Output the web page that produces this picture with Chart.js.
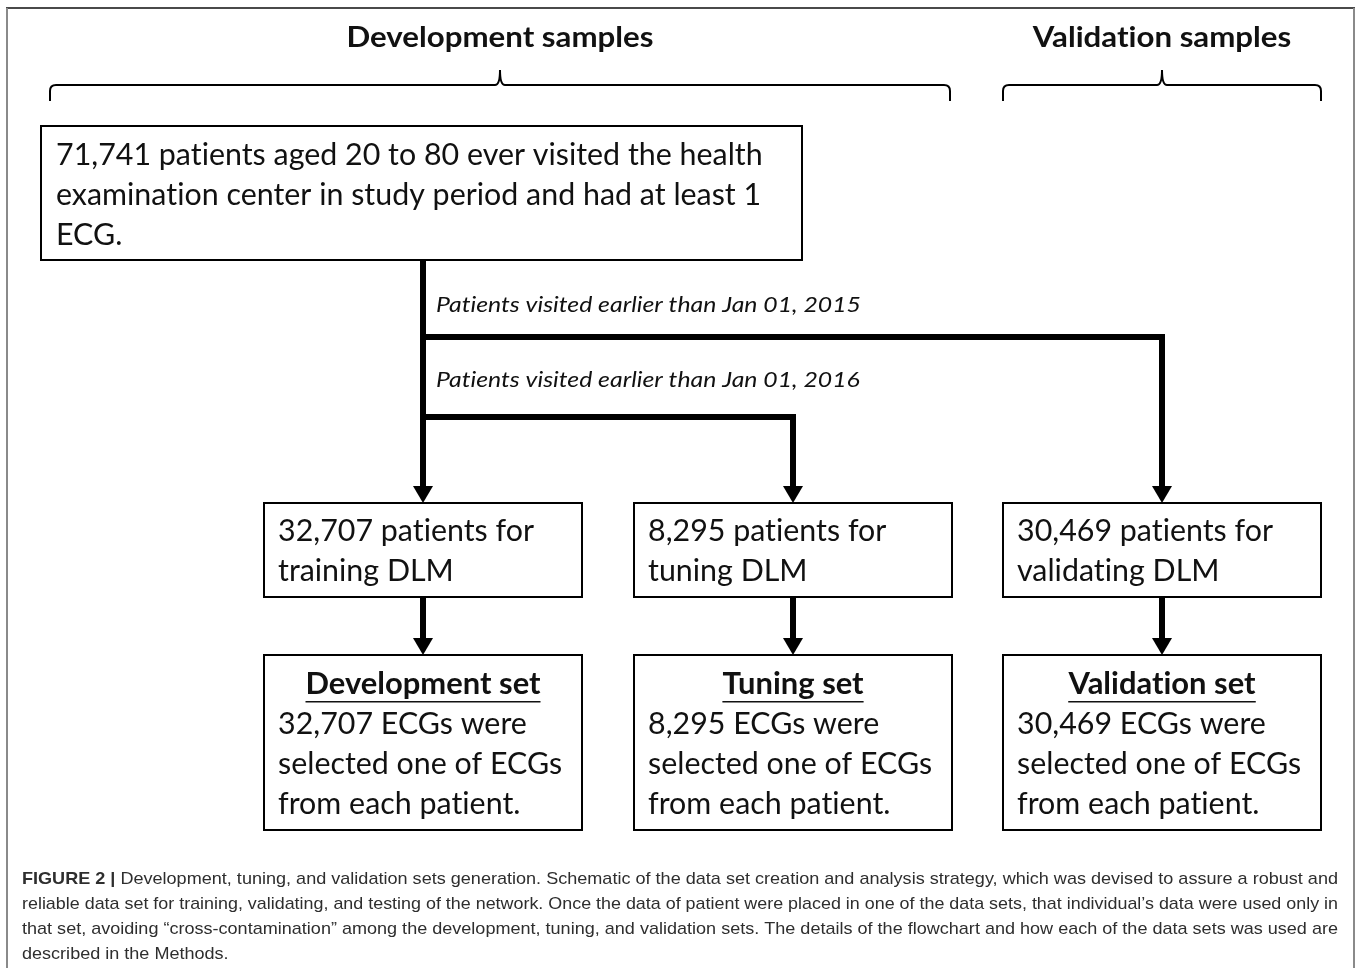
<!DOCTYPE html>
<html>
<head>
<meta charset="utf-8">
<style>
  html, body { margin: 0; padding: 0; background: #fff; }
  canvas { display: block; }
</style>
<script src="https://cdn.jsdelivr.net/npm/chart.js@4.4.1/dist/chart.umd.min.js"></script>
</head>
<body>
<canvas id="flow" width="1358" height="968"></canvas>
<script>
// text content of the figure
const headings = ["Development samples", "Validation samples"];
const conditions = ["Patients visited earlier than Jan 01, 2015", "Patients visited earlier than Jan 01, 2016"];
const sourceLines = [
  "71,741 patients aged 20 to 80 ever visited the health",
  "examination center in study period and had at least 1",
  "ECG."
];
const patientLines = [
  ["32,707 patients for", "training DLM"],
  ["8,295 patients for", "tuning DLM"],
  ["30,469 patients for", "validating DLM"]
];
const setTitles = ["Development set", "Tuning set", "Validation set"];
const setLines = [
  ["32,707 ECGs were", "selected one of ECGs", "from each patient."],
  ["8,295 ECGs were", "selected one of ECGs", "from each patient."],
  ["30,469 ECGs were", "selected one of ECGs", "from each patient."]
];
const captionBold = "FIGURE 2 |";
const captionLines = [
  " Development, tuning, and validation sets generation. Schematic of the data set creation and analysis strategy, which was devised to assure a robust and",
  "reliable data set for training, validating, and testing of the network. Once the data of patient were placed in one of the data sets, that individual\u2019s data were used only in",
  "that set, avoiding \u201ccross-contamination\u201d among the development, tuning, and validation sets. The details of the flowchart and how each of the data sets was used are",
  "described in the Methods."
];

// diagram geometry (in diagram units, mapped through the chart scales)
const W = 1358, H = 968;
const colX = [423, 793, 1162];
const headingX = [500, 1162];
const braces = [[50, 950], [1003, 1321]];
const src = { x0: 41, y0: 126, x1: 802, y1: 260 };
const mid = { y0: 503, y1: 597, half: 159 };
const low = { y0: 655, y1: 830 };
const branchY = [337, 417];
const arrowLen = 17, arrowHalf = 10;

const connectors = [
  [{ x: colX[0], y: src.y1 }, { x: colX[0], y: mid.y0 - arrowLen }],
  [{ x: colX[0], y: branchY[0] }, { x: colX[2], y: branchY[0] }, { x: colX[2], y: mid.y0 - arrowLen }],
  [{ x: colX[0], y: branchY[1] }, { x: colX[1], y: branchY[1] }, { x: colX[1], y: mid.y0 - arrowLen }],
  ...colX.map(c => [{ x: c, y: mid.y1 }, { x: c, y: low.y0 - arrowLen }])
];

const FONT = "Lato, 'Open Sans', sans-serif";
const CAP_FONT = "'Liberation Sans', Arial, sans-serif";

// Lato joins "ti" into a ligature; the original font does not
const noLig = s => s.replace(/t(?=i)/g, "t\u200C").replace(/f(?=[il])/g, "f\u200C");

function fitScale(ctx, font, sample, target) {
  ctx.font = font;
  return target / ctx.measureText(noLig(sample)).width;
}

function drawText(ctx, text, x, y, font, sx, align) {
  ctx.save();
  ctx.font = font;
  ctx.textAlign = align || "left";
  ctx.textBaseline = "alphabetic";
  ctx.translate(x, y);
  ctx.scale(sx, 1);
  ctx.fillText(noLig(text), 0, 0);
  ctx.restore();
}

const diagram = {
  id: "diagram",
  beforeDraw(chart) {
    const { ctx } = chart;
    ctx.save();
    ctx.fillStyle = "#fff";
    ctx.fillRect(0, 0, chart.width, chart.height);
    ctx.restore();
  },
  afterDatasetsDraw(chart) {
    const { ctx, scales: { x, y } } = chart;
    const px = v => x.getPixelForValue(v);
    const py = v => y.getPixelForValue(v);

    // outer frame
    ctx.save();
    ctx.lineWidth = 2;
    ctx.strokeStyle = "#4a4a4a";
    ctx.beginPath(); ctx.moveTo(px(6), py(8)); ctx.lineTo(px(1355), py(8)); ctx.stroke();
    ctx.strokeStyle = "#8a8a8a";
    ctx.beginPath(); ctx.moveTo(px(7), py(8)); ctx.lineTo(px(7), py(H)); ctx.stroke();
    ctx.beginPath(); ctx.moveTo(px(1354), py(8)); ctx.lineTo(px(1354), py(H)); ctx.stroke();

    // braces
    ctx.strokeStyle = "#000";
    ctx.lineWidth = 2;
    braces.forEach(([a, b], i) => {
      const m = headingX[i], by = 85;
      ctx.beginPath();
      ctx.moveTo(px(a), py(101));
      ctx.lineTo(px(a), py(91));
      ctx.quadraticCurveTo(px(a), py(by), px(a + 6), py(by));
      ctx.lineTo(px(m - 5), py(by));
      ctx.quadraticCurveTo(px(m), py(by), px(m), py(70));
      ctx.quadraticCurveTo(px(m), py(by), px(m + 5), py(by));
      ctx.lineTo(px(b - 6), py(by));
      ctx.quadraticCurveTo(px(b), py(by), px(b), py(91));
      ctx.lineTo(px(b), py(101));
      ctx.stroke();
    });

    // boxes
    ctx.lineWidth = 2;
    const rect = (x0, y0, x1, y1) => ctx.strokeRect(px(x0), py(y0), px(x1) - px(x0), py(y1) - py(y0));
    rect(src.x0, src.y0, src.x1, src.y1);
    colX.forEach(c => {
      rect(c - mid.half, mid.y0, c + mid.half, mid.y1);
      rect(c - mid.half, low.y0, c + mid.half, low.y1);
    });

    // arrowheads
    ctx.fillStyle = "#000";
    const arrow = (cx, tip) => {
      ctx.beginPath();
      ctx.moveTo(px(cx - arrowHalf), py(tip - arrowLen));
      ctx.lineTo(px(cx + arrowHalf), py(tip - arrowLen));
      ctx.lineTo(px(cx), py(tip));
      ctx.closePath();
      ctx.fill();
    };
    colX.forEach(c => { arrow(c, mid.y0); arrow(c, low.y0); });

    // text
    ctx.fillStyle = "#111";
    const bodyFont = "30px " + FONT;
    const bodySx = fitScale(ctx, bodyFont, "32,707 patients for", 256);
    const headFont = "bold 29px " + FONT;
    const headSx = fitScale(ctx, headFont, headings[0], 307);
    const setFont = "bold 30px " + FONT;
    const setSx = fitScale(ctx, setFont, setTitles[0], 235);
    const itFont = "italic 22px " + FONT;
    const itSx = fitScale(ctx, itFont, conditions[0], 425);

    headings.forEach((t, i) => drawText(ctx, t, px(headingX[i]), py(47), headFont, headSx, "center"));
    sourceLines.forEach((t, i) => drawText(ctx, t, px(56), py(165 + 40 * i), bodyFont, bodySx));
    conditions.forEach((t, i) => drawText(ctx, t, px(436), py(312 + 75 * i), itFont, itSx));

    colX.forEach((c, k) => {
      const left = c - mid.half + 14;
      patientLines[k].forEach((t, i) => drawText(ctx, t, px(left), py(541 + 40 * i), bodyFont, bodySx));
      drawText(ctx, setTitles[k], px(c), py(694), setFont, setSx, "center");
      ctx.font = setFont;
      const tw = ctx.measureText(setTitles[k]).width * setSx;
      ctx.fillRect(px(c) - tw / 2, py(701), tw, 1.5);
      setLines[k].forEach((t, i) => drawText(ctx, t, px(left), py(734 + 40 * i), bodyFont, bodySx));
    });

    // caption
    ctx.fillStyle = "#2e2e2e";
    const capFont = "17px " + CAP_FONT;
    const capBold = "bold 17px " + CAP_FONT;
    let lastSx = 1;
    captionLines.forEach((t, i) => {
      const yy = py(884 + 25 * i);
      ctx.font = capBold;
      const bw = i === 0 ? ctx.measureText(captionBold).width : 0;
      ctx.font = capFont;
      const tw = ctx.measureText(noLig(t)).width;
      const sx = i < 3 ? (1338 - 22) / (bw + tw) : lastSx;
      lastSx = sx;
      if (i === 0) drawText(ctx, captionBold, px(22), yy, capBold, sx);
      drawText(ctx, t, px(22) + bw * sx, yy, capFont, sx);
    });
    ctx.restore();
  }
};

new Chart(document.getElementById("flow"), {
  type: "scatter",
  data: {
    datasets: connectors.map(pts => ({
      data: pts,
      showLine: true,
      borderColor: "#000",
      borderWidth: 6,
      borderJoinStyle: "miter",
      pointRadius: 0,
      fill: false
    }))
  },
  options: {
    responsive: false,
    devicePixelRatio: 1,
    animation: false,
    layout: { padding: 0 },
    plugins: { legend: { display: false }, tooltip: { enabled: false } },
    scales: {
      x: { type: "linear", min: 0, max: W, display: false },
      y: { type: "linear", min: 0, max: H, reverse: true, display: false }
    }
  },
  plugins: [diagram]
});
</script>
</body>
</html>
